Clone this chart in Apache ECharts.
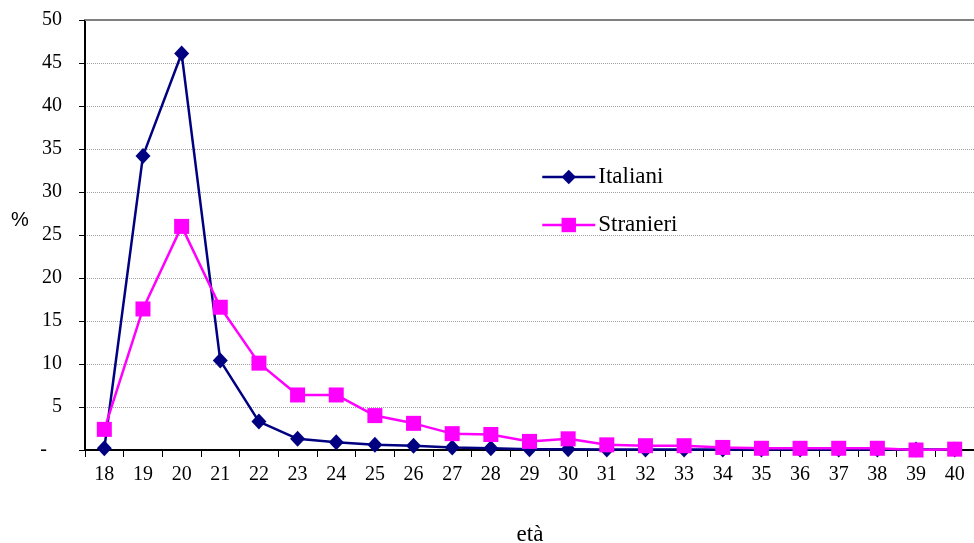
<!DOCTYPE html>
<html>
<head>
<meta charset="utf-8">
<script src="https://cdn.jsdelivr.net/npm/echarts@6/dist/echarts.min.js"></script>
<style>
  html, body { margin: 0; padding: 0; background: #fff; }
  #chart { width: 974px; height: 543px; }
</style>
</head>
<body>
<div id="chart"></div>
<script>
// età 18..40
const ages = ["18", "19", "20", "21", "22", "23", "24", "25", "26", "27", "28", "29",
  "30", "31", "32", "33", "34", "35", "36", "37", "38", "39", "40"];
const italiani = [0.2, 34.2, 46.1, 10.4, 3.3, 1.3, 0.9, 0.6, 0.5, 0.3, 0.2, 0.1,
  0.1, 0.05, 0.05, 0.05, 0.05, 0.05, 0.05, 0.05, 0.05, 0.05, 0.05];
const stranieri = [2.4, 16.4, 26.0, 16.6, 10.1, 6.4, 6.4, 4.0, 3.1, 1.9, 1.8, 1.0,
  1.3, 0.6, 0.5, 0.5, 0.3, 0.2, 0.2, 0.2, 0.2, 0.0, 0.1];

const font = "'Liberation Serif', 'Times New Roman', serif";
const chart = echarts.init(document.getElementById("chart"));

chart.setOption({
  backgroundColor: "#fff",
  animation: false,
  textStyle: { fontFamily: font, color: "#000" },
  grid: { left: 85, top: 20, width: 898, height: 430 },
  legend: {
    orient: "vertical",
    left: 536,
    top: 160,
    itemGap: 24,
    itemWidth: 53,
    itemHeight: 18,
    itemStyle: { borderWidth: 0 },
    lineStyle: { width: 2.5 },
    textStyle: { fontFamily: font, fontSize: 23, lineHeight: 24, color: "#000", padding: [0, 0, 0, -2] },
    data: ["Italiani", "Stranieri"]
  },
  xAxis: [
    {
      type: "category",
      data: ages,
      boundaryGap: true,
      axisLine: { lineStyle: { color: "#000", width: 2 } },
      axisTick: { show: true, length: 7, interval: 0, lineStyle: { color: "#000" } },
      axisLabel: { fontFamily: font, fontSize: 20, color: "#000", margin: 15, interval: 0 },
      splitLine: { show: false }
    },
    {
      type: "category",
      data: ages,
      position: "top",
      axisLine: { lineStyle: { color: "#808080", width: 2 } },
      axisTick: { show: false },
      axisLabel: { show: false }
    }
  ],
  yAxis: {
    type: "value",
    min: 0,
    max: 50,
    interval: 5,
    axisLine: { show: true, lineStyle: { color: "#000", width: 2 } },
    axisTick: { show: true, length: 6, lineStyle: { color: "#000" } },
    axisLabel: {
      fontFamily: font, fontSize: 20, color: "#000", margin: 23,
      formatter: function (v) { return v === 0 ? "-   " : String(v); }
    },
    splitLine: { show: true, lineStyle: { color: "#a0a0a0", type: "dotted", width: 1 } }
  },
  graphic: [
    { type: "text", x: 20, y: 220, style: { text: "%", font: "20px 'Liberation Sans', Arial, sans-serif", fill: "#000", align: "center", verticalAlign: "middle" } },
    { type: "text", x: 530, y: 535, style: { text: "età", font: "23px " + font, fill: "#000", align: "center", verticalAlign: "middle" } }
  ],
  series: [
    {
      name: "Italiani",
      type: "line",
      data: italiani,
      color: "#000080",
      symbol: "diamond",
      symbolSize: [15, 16],
      lineStyle: { width: 2.5 },
      itemStyle: { color: "#000080" }
    },
    {
      name: "Stranieri",
      type: "line",
      data: stranieri,
      color: "#ff00ff",
      symbol: "rect",
      symbolSize: 15,
      lineStyle: { width: 2.5 },
      itemStyle: { color: "#ff00ff" }
    }
  ]
});
</script>
</body>
</html>
